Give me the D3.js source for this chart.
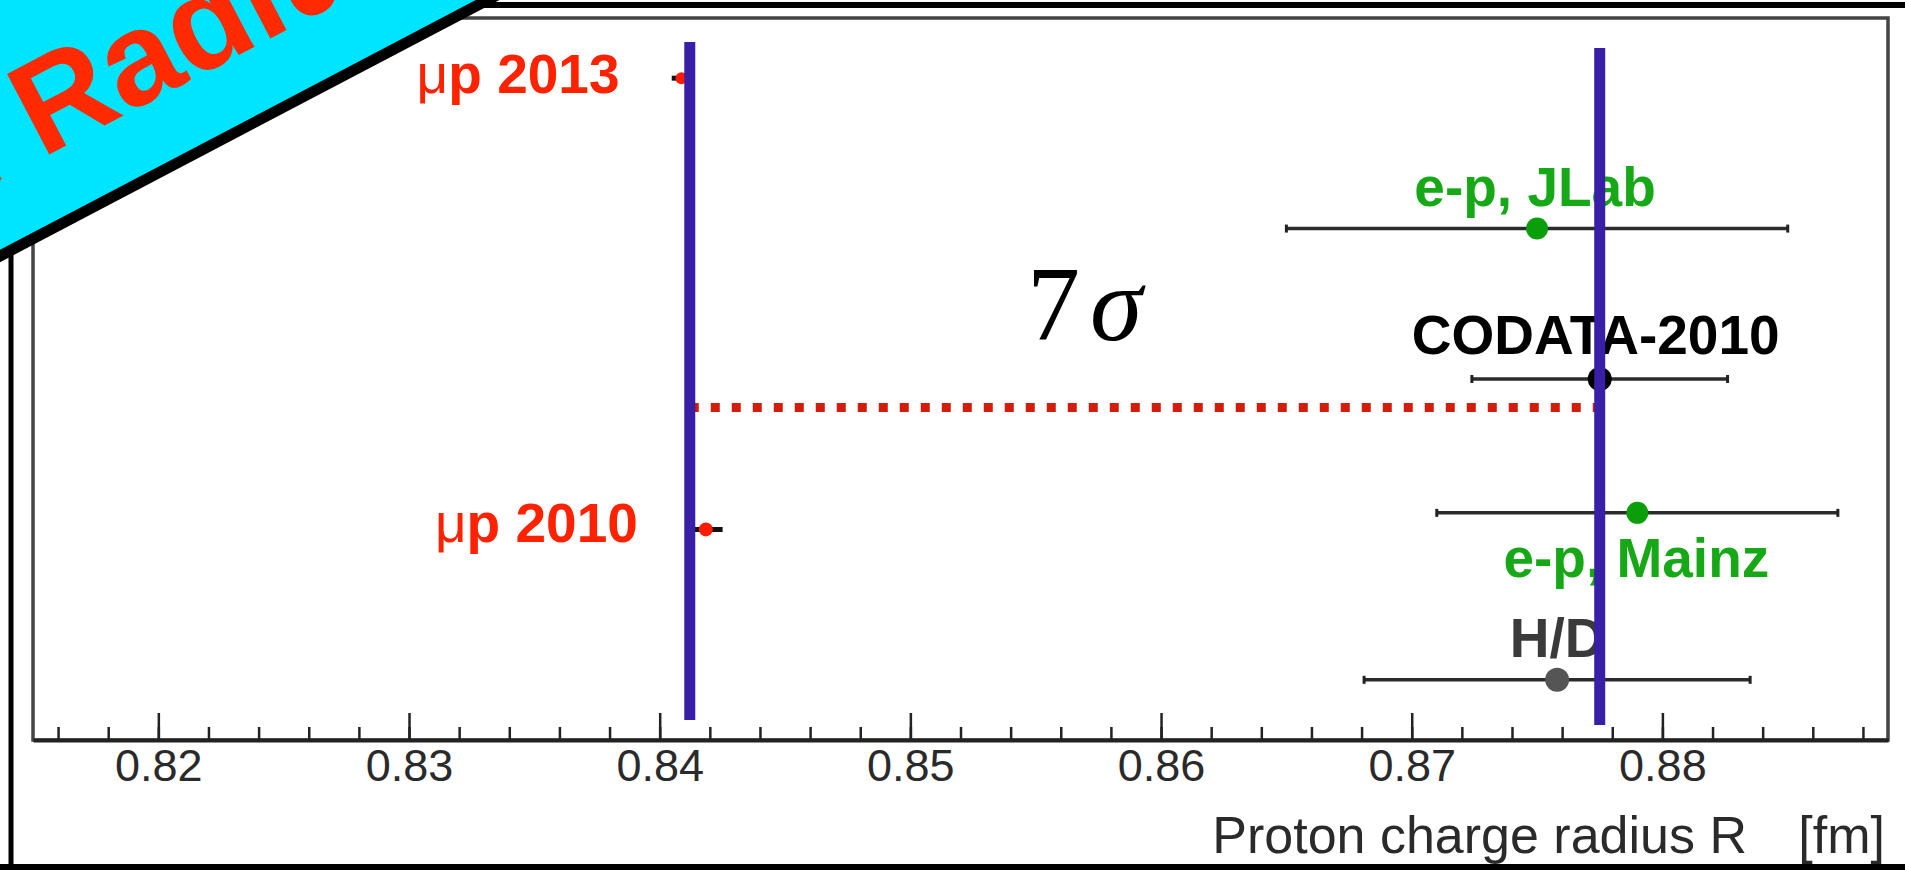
<!DOCTYPE html>
<html>
<head>
<meta charset="utf-8">
<script src="https://cdn.jsdelivr.net/npm/d3@7"></script>
<style>
  body { margin: 0; background: #fff; }
  svg { display: block; font-family: "Liberation Sans", Arial, sans-serif; }
</style>
</head>
<body>
<div id="chart"></div>
<script>
// measurements of the proton charge radius (fm)
const names = ["μp 2013", "e-p, JLab", "CODATA-2010", "μp 2010", "e-p, Mainz", "H/D"];
const radius = [0.84087, 0.875, 0.8775, 0.84184, 0.879, 0.8758];
const errors = [0.00039, 0.010, 0.0051, 0.00067, 0.008, 0.0077];
const rows = [5, 4, 3, 2, 2.11, 1];

// the two vertical guide lines and the gap between them
const guideValues = [0.8412, 0.8775];
const guideRows = [[0.733, 5.24], [0.70, 5.20]];
const gapRow = 2.81;
const gapLabel = ["7", "σ"];
const gapLabelPos = [0.85465, 3.26];

const majorTicks = [0.82, 0.83, 0.84, 0.85, 0.86, 0.87, 0.88];
const axisTitle = "Proton charge radius R";
const axisUnit = "[fm]";
const bannerText = "Proton Radius Puzzle";

// styles per measurement
const style = {
  "μp 2013":     {color: "#ff2200", dot: "#ff1a00", r: 6,  dx: -62, dy: 15, anchor: "end"},
  "e-p, JLab":   {color: "#16a816", dot: "#0a9e0a", r: 11, dx: -2,  dy: -23, anchor: "middle"},
  "CODATA-2010": {color: "#000",    dot: "#000",    r: 12, dx: -4,  dy: -25, anchor: "middle"},
  "μp 2010":     {color: "#ff2200", dot: "#ff1a00", r: 7,  dx: -68, dy: 13, anchor: "end"},
  "e-p, Mainz":  {color: "#16a816", dot: "#0a9e0a", r: 11, dx: -1,  dy: 64, anchor: "middle"},
  "H/D":         {color: "#3a3a3a", dot: "#555",    r: 12, dx: 0,   dy: -23, anchor: "middle"}
};

const W = 1905, H = 870;
const plot = {left: 33, right: 1888, top: 18, bottom: 740};

const svg = d3.select("#chart").append("svg")
    .attr("width", W)
    .attr("height", H);

const x = d3.scaleLinear()
    .domain([0.815, 0.889])
    .range([plot.left, plot.right]);
const y = d3.scaleLinear()
    .domain([0.6, 5.4])
    .range([plot.bottom, plot.top]);

const data = names.map((n, i) => ({name: n, r: radius[i], e: errors[i], row: rows[i]}));

// plot frame
svg.append("rect")
    .attr("x", plot.left)
    .attr("y", plot.top)
    .attr("width", plot.right - plot.left)
    .attr("height", plot.bottom - plot.top)
    .attr("fill", "none")
    .attr("stroke", "#444")
    .attr("stroke-width", 3.5);

// minor ticks
svg.append("g")
    .attr("transform", `translate(0,${plot.bottom})`)
    .call(d3.axisBottom(x).ticks(37).tickSize(-13).tickSizeOuter(0).tickFormat(""))
    .call(g => g.select(".domain").remove())
    .call(g => g.selectAll(".tick line").attr("stroke", "#222").attr("stroke-width", 2.5));

// major ticks + labels
svg.append("g")
    .attr("transform", `translate(0,${plot.bottom})`)
    .call(d3.axisBottom(x).tickValues(majorTicks).tickSize(-27).tickSizeOuter(0).tickPadding(9)
        .tickFormat(d3.format(".2f")))
    .call(g => g.select(".domain").attr("stroke", "#222").attr("stroke-width", 4))
    .call(g => g.selectAll(".tick line").attr("stroke", "#222").attr("stroke-width", 2.5))
    .call(g => g.selectAll(".tick text")
        .attr("font-family", "Liberation Sans, Arial, sans-serif")
        .attr("font-size", 45)
        .attr("fill", "#2a2a2a"));

// axis title
svg.append("text")
    .attr("x", 1747).attr("y", 853)
    .attr("text-anchor", "end")
    .attr("font-size", 52)
    .attr("fill", "#2a2a2a")
    .text(axisTitle);
svg.append("text")
    .attr("x", 1752).attr("y", 886)
    .attr("font-size", 30)
    .attr("fill", "#2a2a2a")
    .text("ch");
svg.append("text")
    .attr("x", 1885).attr("y", 853)
    .attr("text-anchor", "end")
    .attr("font-size", 52)
    .attr("fill", "#2a2a2a")
    .text(axisUnit);

// error bars
const bars = svg.append("g");
bars.selectAll("line.bar")
    .data(data)
    .join("line")
    .attr("class", "bar")
    .attr("x1", d => x(d.r - d.e))
    .attr("x2", d => x(d.r + d.e))
    .attr("y1", d => y(d.row))
    .attr("y2", d => y(d.row))
    .attr("stroke", d => d.e < 0.001 ? "#111" : "#2b2b2b")
    .attr("stroke-width", d => d.e < 0.001 ? 5 : 3.5);
bars.selectAll("line.cap")
    .data(data.filter(d => d.e > 0.001).flatMap(d => [[d.r - d.e, d.row], [d.r + d.e, d.row]]))
    .join("line")
    .attr("class", "cap")
    .attr("x1", d => x(d[0]))
    .attr("x2", d => x(d[0]))
    .attr("y1", d => y(d[1]) - 4)
    .attr("y2", d => y(d[1]) + 4)
    .attr("stroke", "#222")
    .attr("stroke-width", 3);

// points
svg.append("g").selectAll("circle")
    .data(data)
    .join("circle")
    .attr("cx", d => x(d.r))
    .attr("cy", d => y(d.row))
    .attr("r", d => style[d.name].r)
    .attr("fill", d => style[d.name].dot);

// labels
const lab = svg.append("g")
    .attr("font-weight", "bold")
    .attr("font-size", 55);
lab.selectAll("text")
    .data(data)
    .join("text")
    .attr("x", d => x(d.r) + style[d.name].dx)
    .attr("y", d => y(d.row) + style[d.name].dy)
    .attr("text-anchor", d => style[d.name].anchor)
    .attr("fill", d => style[d.name].color)
    .each(function(d) {
        const t = d3.select(this);
        if (d.name.startsWith("μ")) {
            t.append("tspan").attr("font-weight", "normal").text("μ");
            t.append("tspan").text(d.name.slice(1));
        } else {
            t.text(d.name);
        }
    });

// gap between the two results
svg.append("line")
    .attr("x1", x(guideValues[0]))
    .attr("x2", x(guideValues[1]))
    .attr("y1", y(gapRow))
    .attr("y2", y(gapRow))
    .attr("stroke", "#d41c0c")
    .attr("stroke-width", 9)
    .attr("stroke-dasharray", "9,12");

// vertical guide lines
svg.append("g").selectAll("line")
    .data(guideValues)
    .join("line")
    .attr("x1", d => x(d))
    .attr("x2", d => x(d))
    .attr("y1", (d, i) => y(guideRows[i][0]))
    .attr("y2", (d, i) => y(guideRows[i][1]))
    .attr("stroke", "#371fa8")
    .attr("stroke-width", 11);

// 7 sigma
const sig = svg.append("text")
    .attr("x", x(gapLabelPos[0]))
    .attr("y", y(gapLabelPos[1]))
    .attr("font-family", "Liberation Serif, 'DejaVu Serif', serif")
    .attr("font-size", 106)
    .attr("fill", "#000");
sig.append("tspan").text(gapLabel[0]);
sig.append("tspan").attr("dx", 10).attr("font-style", "italic").text(gapLabel[1]);

// slide border
const border = svg.append("g").attr("stroke", "#000");
border.append("line").attr("x1", 0).attr("x2", W).attr("y1", 5).attr("y2", 5).attr("stroke-width", 6);
border.append("line").attr("x1", 11).attr("x2", 11).attr("y1", 0).attr("y2", H).attr("stroke-width", 5);
border.append("line").attr("x1", 0).attr("x2", W).attr("y1", 867).attr("y2", 867).attr("stroke-width", 6);

// corner banner
const banner = svg.append("g")
    .attr("transform", "translate(0,256) rotate(-27.7)");
banner.append("rect")
    .attr("x", -300).attr("y", -500)
    .attr("width", 1200).attr("height", 500)
    .attr("fill", "#00e5ff")
    .attr("stroke", "#000")
    .attr("stroke-width", 11);
banner.append("text")
    .attr("x", -380).attr("y", -67)
    .attr("font-weight", "bold")
    .attr("font-size", 132)
    .attr("fill", "#ff2a00")
    .text(bannerText);
</script>
</body>
</html>
